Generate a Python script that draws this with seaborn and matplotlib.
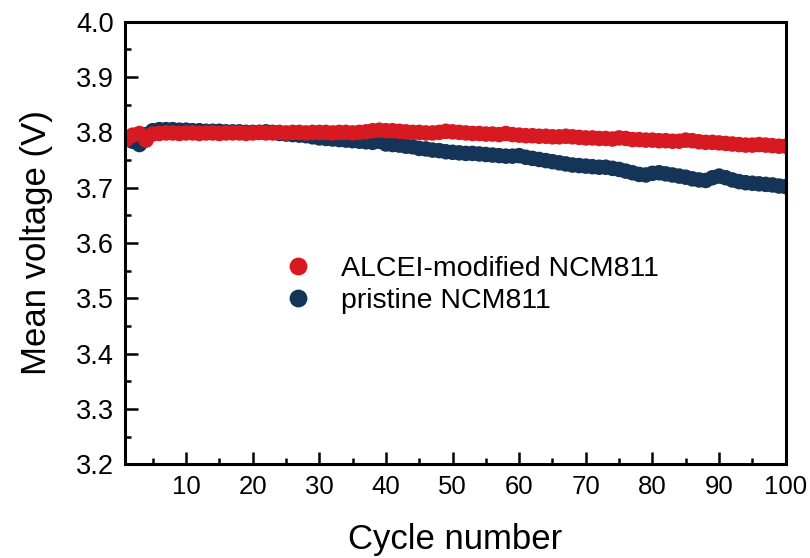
import numpy as np
import pandas as pd
import matplotlib
matplotlib.use("Agg")
import matplotlib.pyplot as plt
import seaborn as sns
from matplotlib.ticker import MultipleLocator

cycles = list(range(1, 101))

alcei_voltage = [
    3.787, 3.795, 3.798, 3.786, 3.797, 3.798, 3.799, 3.799, 3.798, 3.799,
    3.799, 3.798, 3.799, 3.799, 3.798, 3.799, 3.799, 3.799, 3.798, 3.799,
    3.800, 3.799, 3.799, 3.800, 3.799, 3.800, 3.800, 3.799, 3.800, 3.800,
    3.800, 3.799, 3.800, 3.800, 3.799, 3.800, 3.801, 3.803, 3.804, 3.803,
    3.803, 3.802, 3.801, 3.800, 3.800, 3.799, 3.799, 3.800, 3.802, 3.801,
    3.800, 3.799, 3.798, 3.798, 3.797, 3.797, 3.796, 3.798, 3.796, 3.795,
    3.794, 3.794, 3.793, 3.793, 3.792, 3.792, 3.793, 3.792, 3.791, 3.790,
    3.790, 3.789, 3.789, 3.788, 3.790, 3.789, 3.787, 3.787, 3.786, 3.786,
    3.785, 3.785, 3.784, 3.784, 3.786, 3.785, 3.783, 3.782, 3.782, 3.781,
    3.780, 3.779, 3.778, 3.777, 3.777, 3.778, 3.777, 3.776, 3.775, 3.775,
]

pristine_voltage = [
    3.789, 3.784, 3.778, 3.796, 3.803, 3.805, 3.805, 3.805, 3.804, 3.804,
    3.803, 3.803, 3.802, 3.802, 3.802, 3.801, 3.801, 3.801, 3.800, 3.800,
    3.800, 3.801, 3.800, 3.798, 3.797, 3.796, 3.795, 3.794, 3.792, 3.790,
    3.789, 3.788, 3.787, 3.786, 3.785, 3.784, 3.783, 3.782, 3.784, 3.779,
    3.778, 3.777, 3.775, 3.774, 3.771, 3.770, 3.768, 3.767, 3.765, 3.764,
    3.763, 3.762, 3.762, 3.761, 3.760, 3.759, 3.758, 3.757, 3.757, 3.758,
    3.755, 3.753, 3.751, 3.749, 3.747, 3.745, 3.743, 3.741, 3.740, 3.739,
    3.738, 3.737, 3.737, 3.735, 3.733, 3.730, 3.727, 3.724, 3.723, 3.726,
    3.727, 3.725, 3.723, 3.721, 3.719, 3.716, 3.714, 3.713, 3.718, 3.721,
    3.718, 3.714, 3.711, 3.709, 3.708, 3.707, 3.706, 3.705, 3.703, 3.702,
]

label_alcei = "ALCEI-modified NCM811"
label_pristine = "pristine NCM811"
x_ticks = [10, 20, 30, 40, 50, 60, 70, 80, 90, 100]
y_ticks = [3.2, 3.3, 3.4, 3.5, 3.6, 3.7, 3.8, 3.9, 4.0]

df = pd.concat([
    pd.DataFrame({"cycle": cycles, "voltage": pristine_voltage, "sample": label_pristine}),
    pd.DataFrame({"cycle": cycles, "voltage": alcei_voltage, "sample": label_alcei}),
], ignore_index=True)

sns.set_theme(style="ticks", rc={"text.color": "black", "axes.labelcolor": "black",
                                 "xtick.color": "black", "ytick.color": "black",
                                 "axes.edgecolor": "black"})
plt.rcParams["font.family"] = ["Liberation Sans", "DejaVu Sans"]

red = "#d71a22"
navy = "#143557"

fig = plt.figure(figsize=(8.1, 5.58), dpi=100)
ax = fig.add_axes([0.154, 0.168, 0.816, 0.793])

sns.scatterplot(data=df, x="cycle", y="voltage", hue="sample",
                hue_order=[label_alcei, label_pristine],
                palette={label_alcei: red, label_pristine: navy},
                s=125, linewidth=0, edgecolor="none", ax=ax, legend=True)

ax.set_xlim(0.8, 100)
ax.set_ylim(3.2, 4.0)
ax.set_xticks(x_ticks)
ax.set_yticks(y_ticks)
ax.set_yticklabels([f"{v:.1f}" for v in y_ticks])
ax.xaxis.set_minor_locator(MultipleLocator(5))
ax.yaxis.set_minor_locator(MultipleLocator(0.05))
ax.tick_params(axis="both", which="major", direction="in", length=9, width=1.8,
               pad=8)
ax.tick_params(axis="y", which="major", labelsize=19.5)
ax.tick_params(axis="x", which="major", labelsize=18.5)
ax.tick_params(axis="both", which="minor", direction="in", length=4.5, width=1.8)
ax.tick_params(top=False, right=False, which="both")
for sp in ax.spines.values():
    sp.set_linewidth(2.2)
    sp.set_color("black")
    sp.set_visible(True)

ax.set_xlabel("Cycle number", fontsize=25, labelpad=17)
ax.set_ylabel("Mean voltage (V)", fontsize=25, labelpad=16)

handles, labels = ax.get_legend_handles_labels()
leg = ax.legend(handles, labels, loc="center left", bbox_to_anchor=(0.18, 0.405),
                frameon=False, fontsize=20.5, markerscale=1.15, handletextpad=0.5,
                labelspacing=0.2)

fig.savefig("out.png", dpi=100)
